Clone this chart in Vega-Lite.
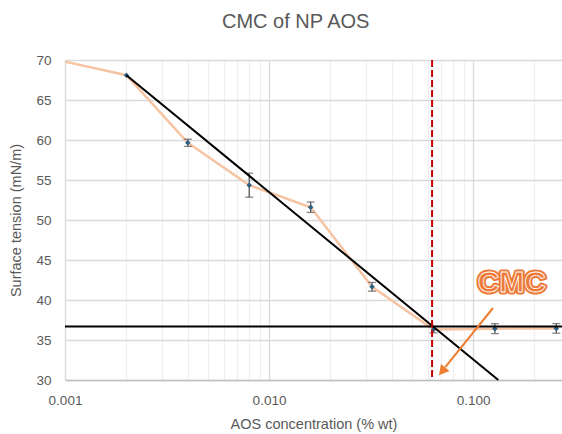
{
  "$schema": "https://vega.github.io/schema/vega-lite/v6.json",
  "width": 497,
  "height": 320,
  "autosize": {"type": "none"},
  "padding": {"left": 65, "top": 60, "right": 0, "bottom": 54},
  "background": "white",
  "config": {
    "font": "Liberation Sans",
    "view": {"stroke": null},
    "axis": {"labelColor": "#595959", "titleColor": "#595959", "labelFontSize": 13.5, "titleFontSize": 14.5, "titleFontWeight": "normal", "ticks": false, "labelFlush": false, "labelOverlap": false},
    "axisY": {"tickCount": 9}
  },
  "title": {"text": "CMC of NP AOS", "fontSize": 20, "fontWeight": "normal", "color": "#595959", "anchor": "start", "dx": 213, "offset": 21},
  "datasets": {
    "pts": [
      {"c": 0.001, "st": 69.8, "err": 0},
      {"c": 0.002, "st": 68.1, "err": 0},
      {"c": 0.004, "st": 59.65, "err": 0.45},
      {"c": 0.008, "st": 54.35, "err": 1.5},
      {"c": 0.016, "st": 51.6, "err": 0.65},
      {"c": 0.032, "st": 41.65, "err": 0.55},
      {"c": 0.064, "st": 36.3, "err": 0.4},
      {"c": 0.128, "st": 36.42, "err": 0.62},
      {"c": 0.256, "st": 36.45, "err": 0.6}
    ],
    "fit": [
      {"c": 0.002, "st": 68.1},
      {"c": 0.133, "st": 30.0}
    ],
    "arrow": [
      {"c": 0.1253, "st": 39.0},
      {"c": 0.0731, "st": 31.6}
    ],
    "tip": [{"c": 0.0681, "st": 30.6}],
    "label": [{"c": 0.155, "st": 42.1, "t": "CMC"}],
    "plateau": [{"st": 36.7}],
    "cmc": [{"c": 0.063}]
  },
  "layer": [
    {
      "data": {"name": "pts"},
      "mark": {"type": "line", "color": "#F6C3A3", "strokeWidth": 2.5},
      "encoding": {
        "x": {
          "field": "c", "type": "quantitative",
          "scale": {"type": "log", "domain": [0.001, 0.273], "nice": false},
          "axis": {
            "title": "AOS concentration (% wt)",
            "values": [0.001, 0.002, 0.003, 0.004, 0.005, 0.006, 0.007, 0.008, 0.009, 0.01, 0.02, 0.03, 0.04, 0.05, 0.06, 0.07, 0.08, 0.09, 0.1, 0.2],
            "labelExpr": "abs(log(datum.value)/LN10 - round(log(datum.value)/LN10)) < 0.001 ? format(datum.value, '.3f') : ''",
            "labelPadding": 13,
            "titlePadding": 11,
            "grid": true,
            "gridColor": {"condition": {"test": "abs(log(datum.value)/LN10 - round(log(datum.value)/LN10)) < 0.001", "value": "#D9D9D9"}, "value": "#EFEFEF"},
            "gridWidth": 1.3,
            "domainColor": "#BFBFBF",
            "domainWidth": 1.3
          }
        },
        "y": {
          "field": "st", "type": "quantitative",
          "title": "Surface tension (mN/m)",
          "scale": {"domain": [30, 70], "nice": false, "zero": false},
          "axis": {"values": [30, 35, 40, 45, 50, 55, 60, 65, 70], "labelPadding": 14, "titlePadding": 12, "grid": true, "gridColor": "#D9D9D9", "gridWidth": 1.3, "domain": false}
        }
      }
    },
    {
      "data": {"name": "pts"},
      "transform": [{"filter": "datum.err > 0"}, {"calculate": "datum.st - datum.err", "as": "lo"}, {"calculate": "datum.st + datum.err", "as": "hi"}],
      "mark": {"type": "errorbar", "ticks": {"size": 8}, "color": "#555555", "thickness": 1.3},
      "encoding": {
        "x": {"field": "c", "type": "quantitative"},
        "y": {"field": "lo", "type": "quantitative", "title": "Surface tension (mN/m)",
          "axis": {"values": [30, 35, 40, 45, 50, 55, 60, 65, 70], "labelPadding": 14, "titlePadding": 12, "grid": true, "gridColor": "#D9D9D9", "gridWidth": 1.3, "domain": false}},
        "y2": {"field": "hi"}
      }
    },
    {
      "data": {"name": "pts"},
      "transform": [{"filter": "datum.c > 0.0015"}],
      "mark": {"type": "point", "shape": "diamond", "filled": true, "color": "#2B5F82", "size": 30, "opacity": 1},
      "encoding": {
        "x": {"field": "c", "type": "quantitative"},
        "y": {"field": "st", "type": "quantitative", "title": "Surface tension (mN/m)",
          "axis": {"values": [30, 35, 40, 45, 50, 55, 60, 65, 70], "labelPadding": 14, "titlePadding": 12, "grid": true, "gridColor": "#D9D9D9", "gridWidth": 1.3, "domain": false}}
      }
    },
    {
      "data": {"name": "fit"},
      "mark": {"type": "line", "color": "black", "strokeWidth": 2},
      "encoding": {
        "x": {"field": "c", "type": "quantitative"},
        "y": {"field": "st", "type": "quantitative", "title": "Surface tension (mN/m)",
          "axis": {"values": [30, 35, 40, 45, 50, 55, 60, 65, 70], "labelPadding": 14, "titlePadding": 12, "grid": true, "gridColor": "#D9D9D9", "gridWidth": 1.3, "domain": false}}
      }
    },
    {
      "data": {"name": "plateau"},
      "mark": {"type": "rule", "color": "black", "strokeWidth": 2},
      "encoding": {
        "y": {"field": "st", "type": "quantitative", "title": "Surface tension (mN/m)",
          "axis": {"values": [30, 35, 40, 45, 50, 55, 60, 65, 70], "labelPadding": 14, "titlePadding": 12, "grid": true, "gridColor": "#D9D9D9", "gridWidth": 1.3, "domain": false}}
      }
    },
    {
      "data": {"name": "cmc"},
      "mark": {"type": "rule", "color": "#C00000", "strokeWidth": 2, "strokeDash": [7, 3]},
      "encoding": {
        "x": {"field": "c", "type": "quantitative"}
      }
    },
    {
      "data": {"name": "arrow"},
      "mark": {"type": "line", "color": "#ED7D31", "strokeWidth": 2},
      "encoding": {
        "x": {"field": "c", "type": "quantitative"},
        "y": {"field": "st", "type": "quantitative", "title": "Surface tension (mN/m)",
          "axis": {"values": [30, 35, 40, 45, 50, 55, 60, 65, 70], "labelPadding": 14, "titlePadding": 12, "grid": true, "gridColor": "#D9D9D9", "gridWidth": 1.3, "domain": false}}
      }
    },
    {
      "data": {"name": "tip"},
      "mark": {"type": "point", "shape": "M0,0L-0.55,1L0.55,1Z", "filled": true, "color": "#ED7D31", "size": 400, "angle": 219, "opacity": 1},
      "encoding": {
        "x": {"field": "c", "type": "quantitative"},
        "y": {"field": "st", "type": "quantitative", "title": "Surface tension (mN/m)",
          "axis": {"values": [30, 35, 40, 45, 50, 55, 60, 65, 70], "labelPadding": 14, "titlePadding": 12, "grid": true, "gridColor": "#D9D9D9", "gridWidth": 1.3, "domain": false}}
      }
    },
    {
      "data": {"name": "label"},
      "mark": {"type": "text", "font": "Liberation Sans", "fontWeight": "bold", "fontSize": 30, "align": "center", "baseline": "middle", "fill": "#EE7A3A", "stroke": "#EE7A3A", "strokeWidth": 5, "strokeJoin": "round"},
      "encoding": {
        "x": {"field": "c", "type": "quantitative"},
        "y": {"field": "st", "type": "quantitative", "title": "Surface tension (mN/m)",
          "axis": {"values": [30, 35, 40, 45, 50, 55, 60, 65, 70], "labelPadding": 14, "titlePadding": 12, "grid": true, "gridColor": "#D9D9D9", "gridWidth": 1.3, "domain": false}},
        "text": {"field": "t"}
      }
    },
    {
      "data": {"name": "label"},
      "mark": {"type": "text", "font": "Liberation Sans", "fontWeight": "bold", "fontSize": 30, "align": "center", "baseline": "middle", "fill": "#EE7A3A", "stroke": "white", "strokeWidth": 0.8},
      "encoding": {
        "x": {"field": "c", "type": "quantitative"},
        "y": {"field": "st", "type": "quantitative", "title": "Surface tension (mN/m)",
          "axis": {"values": [30, 35, 40, 45, 50, 55, 60, 65, 70], "labelPadding": 14, "titlePadding": 12, "grid": true, "gridColor": "#D9D9D9", "gridWidth": 1.3, "domain": false}},
        "text": {"field": "t"}
      }
    }
  ]
}
